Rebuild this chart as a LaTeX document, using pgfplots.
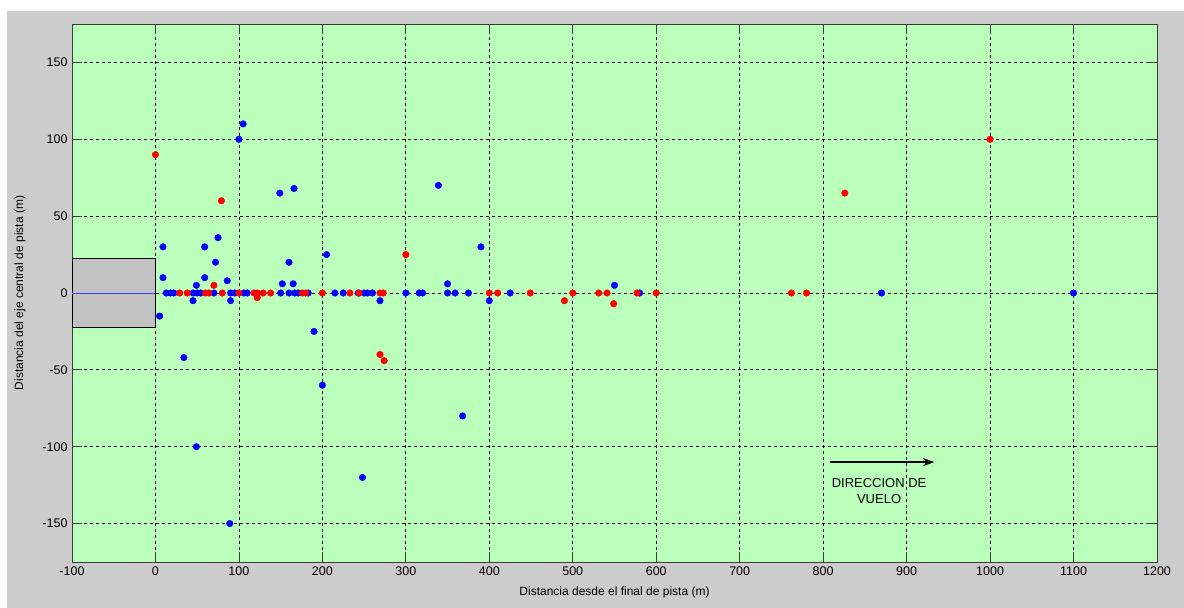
\documentclass[border=0pt]{standalone}
\usepackage{pgfplots}
\pgfplotsset{compat=1.18}
\usepackage{fontspec}
\setmainfont{Liberation Sans}
\usetikzlibrary{arrows.meta}
\definecolor{bggray}{RGB}{204,204,204}
\definecolor{axgreen}{RGB}{186,255,186}
\definecolor{rwgray}{RGB}{194,194,194}
\definecolor{mblue}{RGB}{0,0,255}
\definecolor{mred}{RGB}{255,0,0}
\definecolor{lblue}{RGB}{60,60,255}
\definecolor{axline}{RGB}{60,60,60}

\begin{document}
\begin{tikzpicture}[x=1bp,y=1bp]
\fill[white] (0,0) rectangle (1184,-608);
\fill[bggray] (7,-11) rectangle (1184,-608);
\begin{axis}[
  at={(72bp,-562bp)}, anchor=south west,
  scale only axis, width=1085bp, height=538bp,
  xmin=-100, xmax=1200, ymin=-175, ymax=175,
  xtick={-100,0,100,200,300,400,500,600,700,800,900,1000,1100,1200},
  ytick={-150,-100,-50,0,50,100,150},
  axis background/.style={fill=axgreen},
  grid=major,
  major grid style={black, line width=0.8bp, dash pattern=on 3bp off 3bp},
  axis line style={axline, line width=1bp},
  tick style={axline, line width=0.8bp, solid},
  major tick length=10bp,
  tick align=inside,
  xtick pos=both, ytick pos=both,
  xticklabel pos=bottom, yticklabel pos=left,
  /pgf/number format/assume math mode=true,
  /pgf/number format/.cd, 1000 sep={}, /pgfplots/.cd,
  ticklabel style={font=\fontsize{12.5bp}{15bp}\selectfont, text=black},
  xticklabel style={yshift=-1bp},
  yticklabel style={xshift=-1bp},
  xlabel={Distancia desde el final de pista (m)},
  ylabel={Distancia del eje central de pista (m)},
  label style={font=\fontsize{12bp}{14bp}\selectfont, text=black},
  xlabel style={at={(axis description cs:0.5,0)}, anchor=center, yshift=-30bp},
  ylabel style={at={(axis description cs:0,0.5)}, anchor=center, rotate=0, yshift=52bp},
  clip=false,
]
% runway
\addplot[draw=black, line width=1bp, fill=rwgray] coordinates {(-100,-22.5) (0,-22.5) (0,22.5) (-100,22.5)} -- cycle;
\addplot[lblue, line width=1bp] coordinates {(-100,0) (0,0)};
% blue points
\addplot[only marks, mark=*, mark size=3.3bp, mark options={draw=mblue, fill=mblue}] coordinates {
(13,0) (18,0) (22,0) (45,0) (50,0) (54,0) (70,0) (90,0) (95,0) (106,0) (110,0)
(150,0) (160,0) (167,0) (171,0) (183,0) (215,0) (225,0) (243,0) (250,0) (254,0) (260,0)
(300,0) (316,0) (320,0) (350,0) (359,0) (375,0) (425,0) (580,0) (870,0) (1100,0)
(9,30) (59,30) (75,36) (72,20) (9,10) (59,10) (86,8) (49,5) (160,20) (152,6) (165,6)
(205,25) (5,-15) (45,-5) (90,-5) (190,-25) (34,-42) (105,110) (100,100) (149,65) (166,68)
(339,70) (390,30) (350,6) (269,-5) (400,-5) (550,5) (200,-60) (368,-80) (49,-100)
(248,-120) (89,-150)
};
% red points
\addplot[only marks, mark=*, mark size=3.3bp, mark options={draw=mred, fill=mred}] coordinates {
(29,0) (38,0) (60,0) (64,0) (80,0) (100,0) (118,0) (122,0) (129,0) (138,0) (176,0) (180,0)
(200,0) (233,0) (244,0) (269,0) (273,0) (400,0) (410,0) (449,0) (500,0) (531,0) (541,0)
(577,0) (600,0) (762,0) (780,0)
(70,5) (122,-3) (0,90) (79,60) (300,25) (269,-40) (274,-44) (490,-5) (549,-7) (826,65) (1000,100)
};
% flight direction
\draw[black, line width=1.2bp, -{Stealth[length=11bp, width=8bp]}] (axis cs:808,-110) -- (axis cs:933,-110);
\node[align=center, font=\fontsize{13bp}{16bp}\selectfont, text=black, inner sep=0pt] at (axis cs:867,-128.5) {DIRECCION DE\\VUELO};
\end{axis}
\end{tikzpicture}
\end{document}
